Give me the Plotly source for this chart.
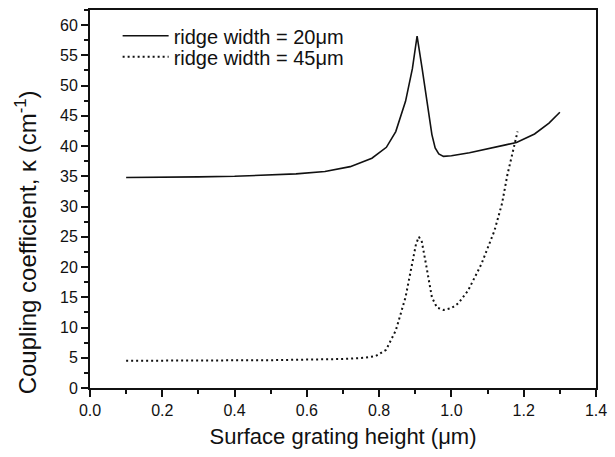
import plotly.graph_objects as go

# ridge width = 20 um (solid)
x20 = [0.10, 0.20, 0.30, 0.40, 0.50, 0.57, 0.65, 0.72, 0.78, 0.82, 0.846, 0.873, 0.892, 0.905,
       0.919, 0.937, 0.946, 0.955, 0.965, 0.978, 1.00, 1.05, 1.10, 1.15, 1.18, 1.23, 1.27, 1.30]
k20 = [34.8, 34.8, 34.9, 35.0, 35.2, 35.4, 35.8, 36.6, 38.0, 39.8, 42.4, 47.4, 52.8, 58.2,
       52.8, 45.7, 41.9, 39.7, 38.7, 38.3, 38.4, 38.9, 39.5, 40.2, 40.6, 42.0, 43.8, 45.6]

# ridge width = 45 um (dotted)
x45 = [0.10, 0.20, 0.30, 0.40, 0.50, 0.60, 0.70, 0.76, 0.791, 0.819, 0.846, 0.873, 0.892, 0.902,
       0.910, 0.918, 0.928, 0.946, 0.960, 0.978, 1.00, 1.019, 1.046, 1.083, 1.119, 1.140, 1.155, 1.170, 1.183]
k45 = [4.5, 4.5, 4.5, 4.6, 4.6, 4.7, 4.8, 5.0, 5.3, 6.3, 9.5, 15.0, 20.5, 23.8,
       25.0, 24.2, 21.0, 15.0, 13.3, 12.9, 13.2, 14.0, 16.1, 20.5, 26.0, 30.5, 35.3, 39.0, 42.4]

x_ticks = [0.0, 0.2, 0.4, 0.6, 0.8, 1.0, 1.2, 1.4]
y_ticks = [0, 5, 10, 15, 20, 25, 30, 35, 40, 45, 50, 55, 60]

FONT = "Liberation Sans, Arial, sans-serif"
INK = "#111111"

fig = go.Figure()
fig.add_trace(go.Scatter(x=x20, y=k20, mode="lines", name="ridge width = 20\u03bcm",
                         line=dict(color=INK, width=1.6), legend="legend"))
fig.add_trace(go.Scatter(x=x45, y=k45, mode="lines", name="ridge width = 45\u03bcm",
                         line=dict(color=INK, width=2, dash="2px,3px"), legend="legend2"))

axis_common = dict(showline=True, linecolor=INK, linewidth=2, mirror=True,
                   ticks="outside", tickcolor=INK, tickwidth=2, ticklen=7,
                   showgrid=False, zeroline=False,
                   tickfont=dict(family=FONT, size=16, color=INK))

fig.update_xaxes(range=[0, 1.4], tickvals=x_ticks, ticktext=[f"{v:.1f}" for v in x_ticks],
                 minor=dict(dtick=0.1, ticks="outside", ticklen=4, tickwidth=2, tickcolor=INK),
                 title=dict(text="Surface grating height (\u03bcm)", font=dict(family=FONT, size=22, color=INK),
                            standoff=10),
                 **axis_common)
fig.update_yaxes(range=[0, 62.5], tickvals=y_ticks, ticktext=[str(v) for v in y_ticks],
                 minor=dict(dtick=2.5, ticks="outside", ticklen=4, tickwidth=2, tickcolor=INK),
                 **axis_common)

fig.add_annotation(text="Coupling coefficient, \u03ba (cm<sup>-1</sup>)", textangle=-90,
                   xref="paper", yref="paper", x=-0.1248, y=0.385,
                   xanchor="center", yanchor="middle", showarrow=False,
                   font=dict(family=FONT, size=24, color=INK))

leg_common = dict(xanchor="left", yanchor="middle", bgcolor="rgba(0,0,0,0)",
                  font=dict(family=FONT, size=20, color=INK), itemwidth=46,
                  borderwidth=0)
fig.update_layout(
    width=615, height=457,
    margin=dict(l=90, r=12, t=8, b=69),
    paper_bgcolor="white", plot_bgcolor="white",
    font=dict(family=FONT, color=INK),
    showlegend=True,
    legend=dict(x=0.0546, y=0.932, **leg_common),
    legend2=dict(x=0.0546, y=0.876, **leg_common),
)

fig.write_html("out.html")
